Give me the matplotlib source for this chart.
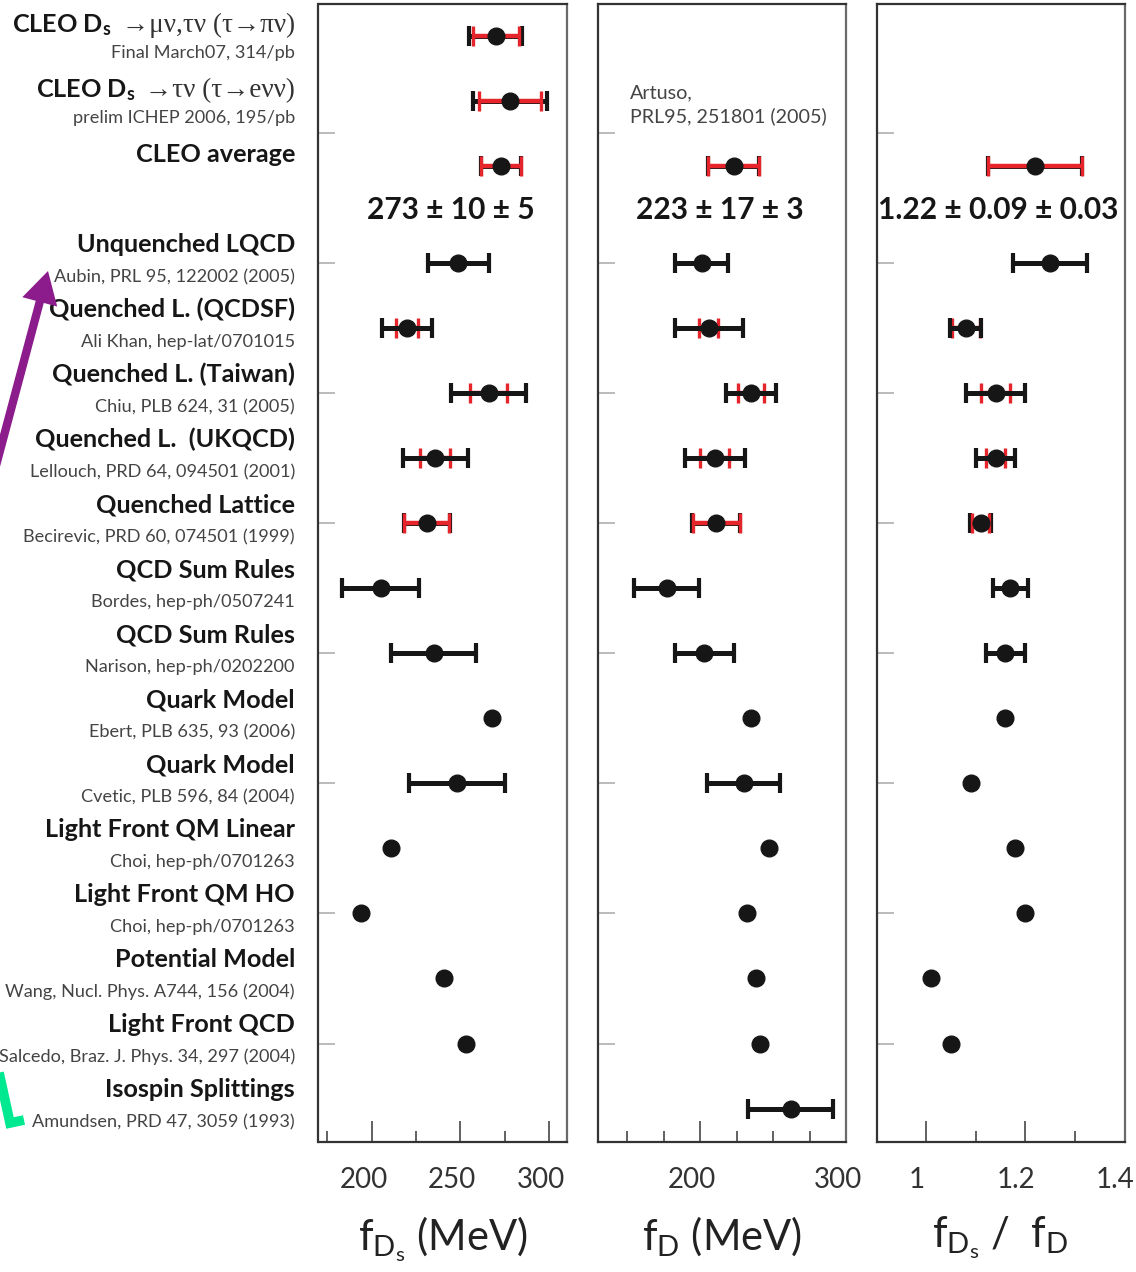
import numpy as np
import matplotlib
matplotlib.use('Agg')
import matplotlib.pyplot as plt
from matplotlib.lines import Line2D
from matplotlib.ticker import MultipleLocator, FuncFormatter
from matplotlib.transforms import ScaledTranslation

plt.rcParams['font.family'] = ['Lato', 'DejaVu Sans']
plt.rcParams['mathtext.fontset'] = 'custom'
plt.rcParams['mathtext.rm'] = 'Lato'
plt.rcParams['mathtext.bf'] = 'Lato:bold'
plt.rcParams['mathtext.it'] = 'Lato:italic'

nan = np.nan
BLACK = '#161616'
RED = '#e5252b'

# CLEO averages: value, stat, syst
fds_avg = [273, 10, 5]
fd_avg = [223, 17, 3]
ratio_avg = [1.22, 0.09, 0.03]
fds_avg_err = np.hypot(fds_avg[1], fds_avg[2])
fd_avg_err = np.hypot(fd_avg[1], fd_avg[2])
ratio_avg_err = np.hypot(ratio_avg[1], ratio_avg[2])

names = ['CLEO D$_\\mathbf{s}$', 'CLEO D$_\\mathbf{s}$', 'CLEO average',
         'Unquenched LQCD', 'Quenched L. (QCDSF)', 'Quenched L. (Taiwan)',
         'Quenched L.  (UKQCD)', 'Quenched Lattice', 'QCD Sum Rules',
         'QCD Sum Rules', 'Quark Model', 'Quark Model', 'Light Front QM Linear',
         'Light Front QM HO', 'Potential Model', 'Light Front QCD',
         'Isospin Splittings']
decays = ['\u2192\u03bc\u03bd,\u03c4\u03bd (\u03c4\u2192\u03c0\u03bd)',
          '\u2192\u03c4\u03bd (\u03c4\u2192e\u03bd\u03bd)'] + [''] * 15
refs = ['Final March07, 314/pb', 'prelim ICHEP 2006, 195/pb', '',
        'Aubin, PRL 95, 122002 (2005)', 'Ali Khan, hep-lat/0701015',
        'Chiu, PLB 624, 31 (2005)', 'Lellouch, PRD 64, 094501 (2001)',
        'Becirevic, PRD 60, 074501 (1999)', 'Bordes, hep-ph/0507241',
        'Narison, hep-ph/0202200', 'Ebert, PLB 635, 93 (2006)',
        'Cvetic, PLB 596, 84 (2004)', 'Choi, hep-ph/0701263',
        'Choi, hep-ph/0701263', 'Wang, Nucl. Phys. A744, 156 (2004)',
        'Salcedo, Braz. J. Phys. 34, 297 (2004)', 'Amundsen, PRD 47, 3059 (1993)']

# f_Ds (MeV)
fds_val = [270, 278, fds_avg[0], 249, 220, 266, 236, 231, 205, 235, 268, 248,
           211, 194, 241, 253, nan]
fds_stat = [13, 17.5, fds_avg_err, nan, 6, 10.5, 8.5, 12.5, nan, nan, nan, nan,
            nan, nan, nan, nan, nan]
fds_tot = [14.8, 21, fds_avg_err, 17, 14, 21, 18.5, 13, 22, 24, nan, 27,
           nan, nan, nan, nan, nan]

# f_D (MeV)
fd_val = [nan, nan, fd_avg[0], 201, 206, 235, 210, 211, 177, 203, 235, 230,
          247, 232, 238, 241, 262]
fd_stat = [nan, nan, fd_avg_err, nan, 6.5, 8.7, 10, 16, nan, nan, nan, nan,
           nan, nan, nan, nan, nan]
fd_tot = [nan, nan, fd_avg_err, 18, 23.5, 17.2, 20.5, 16.4, 22, 20, nan, 25,
          nan, nan, nan, nan, 29]

# f_Ds / f_D
ratio_val = [nan, nan, ratio_avg[0], 1.25, 1.08, 1.14, 1.14, 1.11, 1.17, 1.16,
             1.16, 1.09, 1.18, 1.20, 1.01, 1.05, nan]
ratio_stat = [nan, nan, ratio_avg_err, nan, 0.028, 0.03, 0.02, 0.017, nan, nan,
              nan, nan, nan, nan, nan, nan, nan]
ratio_tot = [nan, nan, ratio_avg_err, 0.074, 0.031, 0.06, 0.04, 0.021, 0.035,
             0.04, nan, nan, nan, nan, nan, nan, nan]

# rows where the red (stat) bar sits over the black one
red_top = np.array([True] * 3 + [False] * 4 + [True] + [False] * 9)

ypos = np.r_[np.arange(3), 3.5 + np.arange(14)]


def draw_panel(ax, val, stat, tot):
    val, stat, tot = (np.asarray(a, float) for a in (val, stat, tot))
    m = ~np.isnan(tot)
    ax.errorbar(val[m], ypos[m], xerr=tot[m], fmt='none', ecolor=BLACK,
                elinewidth=3.6, capsize=7.5, capthick=3.0, zorder=3)
    for top in (True, False):
        mm = ~np.isnan(stat) & (red_top == top)
        if mm.any():
            ax.errorbar(val[mm], ypos[mm], xerr=stat[mm], fmt='none', ecolor=RED,
                        elinewidth=3.2, capsize=7.2, capthick=2.4,
                        zorder=4 if top else 2)
    m = ~np.isnan(val)
    ax.plot(val[m], ypos[m], 'o', color=BLACK, ms=12, zorder=5)


fig = plt.figure(figsize=(11.36, 12.72), dpi=100)
W, H = 1136, 1272
lefts = [318.5, 598, 876.5]
axes = [fig.add_axes([l / W, 1 - 1142 / H, 248 / W, 1138 / H]) for l in lefts]
ax1, ax2, ax3 = axes

draw_panel(ax1, fds_val, fds_stat, fds_tot)
draw_panel(ax2, fd_val, fd_stat, fd_tot)
draw_panel(ax3, ratio_val, ratio_stat, ratio_tot)

ax1.set_xlim(170, 310)
ax2.set_xlim(130, 300)
ax3.set_xlim(0.9, 1.4)
ax1.xaxis.set_major_locator(MultipleLocator(50))
ax1.xaxis.set_minor_locator(MultipleLocator(25))
ax2.xaxis.set_major_locator(MultipleLocator(100))
ax2.xaxis.set_minor_locator(MultipleLocator(25))
ax3.xaxis.set_major_locator(MultipleLocator(0.2))
ax3.xaxis.set_minor_locator(MultipleLocator(0.1))
ax3.xaxis.set_major_formatter(FuncFormatter(lambda v, p: '%g' % round(v, 2)))

for ax, shift in ((ax1, -8), (ax2, -8), (ax3, -9)):
    ax.set_ylim(17.015, -0.49)
    ax.set_yticks(np.arange(1.5, 16, 2))
    ax.tick_params(axis='y', direction='in', length=12, width=1.3,
                   color='#b5b5b5', labelleft=False)
    ax.tick_params(axis='x', which='major', direction='in', length=15, width=1.3,
                   color='#555555', labelsize=20, labelcolor='#333333', pad=18)
    ax.tick_params(axis='x', which='minor', direction='in', length=8, width=1.3,
                   color='#555555')
    for s in ax.spines.values():
        s.set_linewidth(1.6)
        s.set_color('#333333')
    ax.spines['right'].set_color('#6a6a6a')
    for lab in ax.get_xticklabels():
        lab.set_transform(lab.get_transform() +
                          ScaledTranslation(shift / 100, 0, fig.dpi_scale_trans))

ax1.set_xlabel('f$_{\\mathrm{D_s}}$ (MeV)', fontsize=30, color='#222222', labelpad=16)
ax2.set_xlabel('f$_{\\mathrm{D}}$ (MeV)', fontsize=30, color='#222222', labelpad=16)
ax3.set_xlabel('f$_{\\mathrm{D_s}}$ /  f$_{\\mathrm{D}}$', fontsize=30,
               color='#222222', labelpad=16)

# CLEO average written out in each panel
for ax, avg, xc in ((ax1, fds_avg, 0.535), (ax2, fd_avg, 0.49), (ax3, ratio_avg, 0.489)):
    ax.text(xc, 2.82, '%g \u00b1 %g \u00b1 %g' % tuple(avg),
            transform=ax.get_yaxis_transform(), ha='center', va='baseline',
            fontsize=21.5, fontweight='bold', color=BLACK)

ax2.text(0.129, 0.74, 'Artuso,\nPRL95, 251801 (2005)', transform=ax2.get_yaxis_transform(),
         ha='left', va='top', fontsize=14.2, color='#444444', linespacing=1.45)

# row labels left of the first panel
tr = ax1.get_yaxis_transform()
xl = -0.095
for i, y in enumerate(ypos):
    cleo = i < 3
    yn = y - (0.06 if cleo else 0.17)
    yr = y + (0.34 if cleo else 0.29)
    if decays[i]:
        t = ax1.text(xl, yn, decays[i], transform=tr, ha='right', va='baseline',
                     fontsize=19.5, color='#333333',
                     family=['Liberation Serif', 'DejaVu Serif'])
        ax1.annotate(names[i], xy=(0, yn), xycoords=(t, 'data'), xytext=(-10, 0),
                     textcoords='offset pixels', ha='right', va='baseline',
                     fontsize=18.2, fontweight='bold', color=BLACK,
                     annotation_clip=False)
    else:
        ax1.text(xl, yn, names[i], transform=tr, ha='right', va='baseline',
                 fontsize=18.2, fontweight='bold', color=BLACK)
    if refs[i]:
        ax1.text(xl, yr, refs[i], transform=tr, ha='right', va='baseline',
                 fontsize=13.1, color='#444444')

# pointers drawn over the label column
ax1.annotate('', xy=(48, H - 271), xycoords='figure pixels',
             xytext=(-10, H - 488), textcoords='figure pixels',
             arrowprops=dict(arrowstyle='simple,head_length=1.15,head_width=1.3,tail_width=0.3',
                             mutation_scale=20, color='#8c1c8c', lw=0,
                             shrinkA=0, shrinkB=0),
             annotation_clip=False)
fig.add_artist(Line2D(np.array([-2, 10, 24]) / W, 1 - np.array([1068, 1123, 1120]) / H,
                      transform=fig.transFigure, lw=7, color='#00e890',
                      solid_joinstyle='miter', solid_capstyle='butt'))

fig.savefig('out.png', dpi=100)
